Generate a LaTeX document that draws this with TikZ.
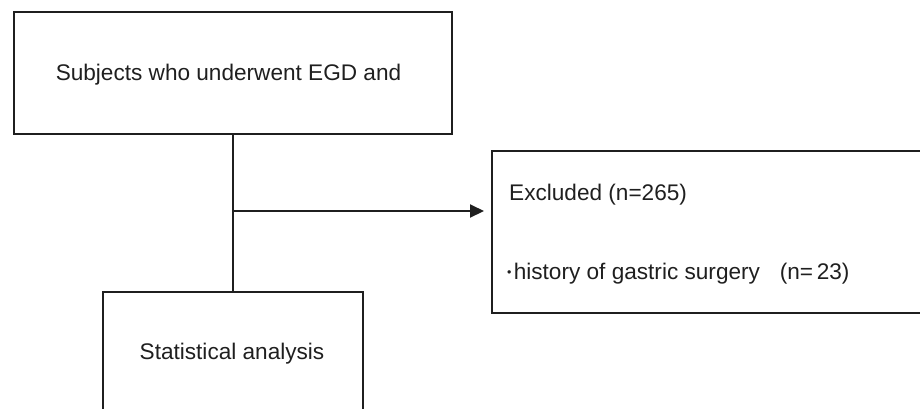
\documentclass[tikz,border=0pt]{standalone}
\usepackage{fontspec}
\setmainfont{Liberation Sans}
\usetikzlibrary{arrows.meta}
\begin{document}
\begin{tikzpicture}[x=1pt,y=-1pt,
  boxline/.style={draw=black!88,line width=2pt,inner sep=0pt},
  txt/.style={font=\fontsize{22.6}{26}\selectfont,text=black!88,inner sep=0pt},
  conn/.style={draw=black!88,line width=2pt}]
\useasboundingbox (0,0) rectangle (920,408);
\clip (0,0) rectangle (920,408);
\node[boxline,minimum width=438pt,minimum height=122pt] (top) at (233,73) {};
\node[boxline,minimum width=436pt,minimum height=162pt] (excl) at (710,232) {};
\node[boxline,minimum width=260pt,minimum height=130pt] (stat) at (232.5,357) {};
\node[txt,anchor=base] (t1) at (228.5,80) {Subjects who underwent EGD and};
\node[txt,anchor=base west] (t2) at (509,200) {Excluded (n=265)};
\node[txt,anchor=base west] (t3) at (507,279) {\raisebox{0.22ex}{\scalebox{0.55}{\textbullet}}\hspace{0.1em}history of gastric surgery\hspace{0.6em} (n=\,23)};
\node[txt,anchor=base] (t4) at (232,359) {Statistical analysis};
\coordinate (j) at (232.5,211);
\draw[conn] (top.south -| j) -- (stat.north -| j);
\draw[conn,-{Triangle[length=14pt,width=13pt]},shorten >=7pt] (j) -- (excl.west |- j);
\end{tikzpicture}
\end{document}
